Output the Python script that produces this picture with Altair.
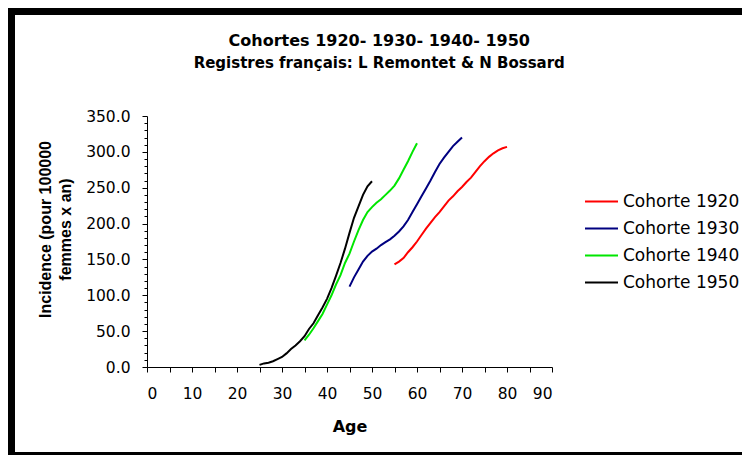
import altair as alt
import pandas as pd

cohorts = ["Cohorte 1920", "Cohorte 1930", "Cohorte 1940", "Cohorte 1950"]
colors = ["#ff0000", "#000080", "#00e600", "#000000"]

ages_1920 = list(range(55, 81))
inc_1920 = [143, 147, 152, 160, 167, 175, 184, 193, 201, 209, 216, 224, 232,
            238, 245, 251, 258, 264, 272, 280, 287, 293, 298, 302, 305, 307]
ages_1930 = list(range(45, 71))
inc_1930 = [112, 125, 136, 147, 155, 161, 165, 170, 174, 178, 183, 189, 196,
            205, 216, 227, 238, 249, 260, 272, 283, 292, 300, 308, 314, 320]
ages_1940 = list(range(35, 61))
inc_1940 = [37, 45, 54, 64, 74, 87, 100, 115, 128, 145, 158, 175, 191,
            205, 216, 223, 229, 234, 240, 246, 253, 263, 275, 287, 300, 312]
ages_1950 = list(range(25, 51))
inc_1950 = [3, 5, 6, 8, 11, 14, 19, 25, 30, 36, 43, 53, 61,
            72, 83, 95, 110, 127, 145, 165, 187, 208, 224, 240, 252, 259]

x_ticks = list(range(0, 91, 5))
y_ticks = list(range(0, 351, 10))

series = [(cohorts[0], ages_1920, inc_1920), (cohorts[1], ages_1930, inc_1930),
          (cohorts[2], ages_1940, inc_1940), (cohorts[3], ages_1950, inc_1950)]
rows = []
for name, ages, vals in series:
    for a, v in zip(ages, vals):
        rows.append({"Cohorte": name, "Age": a, "Incidence": v})
df = pd.DataFrame(rows)

W, H = 405, 251
PAD_L, PAD_T = 139, 108
TOTAL_W, TOTAL_H = 734, 447

lines = alt.Chart(df).mark_line(strokeWidth=2).encode(
    x=alt.X("Age:Q", scale=alt.Scale(domain=[0, 90], nice=False),
            axis=alt.Axis(values=x_ticks, title="Age",
                          labelExpr="datum.value % 10 == 0 ? datum.label : ''",
                          grid=False, tickSize=5, labelPadding=14,
                          labelFont="DejaVu Sans", labelFontSize=15.5, labelColor="black",
                          titleFont="DejaVu Sans", titleFontSize=16, titleFontWeight="bold",
                          titleColor="black", titlePadding=17,
                          domainColor="black", tickColor="black")),
    y=alt.Y("Incidence:Q", scale=alt.Scale(domain=[0, 350], nice=False),
            axis=alt.Axis(values=y_ticks, format=".1f",
                          labelExpr="datum.value % 50 == 0 ? datum.label : ''",
                          title=["Incidence (pour 100000", "femmes x an)"],
                          grid=False,
                          tickSize={"condition": {"test": "datum.value % 50 === 0", "value": 5}, "value": 3},
                          labelPadding=12,
                          labelFont="DejaVu Sans", labelFontSize=15.5, labelColor="black",
                          titleFont="Liberation Sans", titleFontSize=16, titleFontWeight="bold",
                          titleColor="black", titleLineHeight=20, titlePadding=12, titleY=113,
                          domainColor="black", tickColor="black")),
    color=alt.Color("Cohorte:N", scale=alt.Scale(domain=cohorts, range=colors),
                    legend=alt.Legend(title=None, orient="none", legendX=437, legendY=68,
                                      symbolType="stroke", symbolSize=1089, symbolStrokeWidth=2,
                                      labelFont="DejaVu Sans", labelFontSize=17, labelColor="black",
                                      labelOffset=4, rowPadding=1)),
)

frame = alt.Chart(pd.DataFrame({"a": [0]})).mark_rect(
    fillOpacity=0, stroke="black", strokeWidth=7
).encode(x=alt.value(-135.5), x2=alt.value(602), y=alt.value(-104.5), y2=alt.value(339.5))

chart = alt.layer(frame, lines).properties(
    width=W, height=H, background="white",
    autosize=alt.AutoSizeParams(type="none"),
    padding={"left": PAD_L, "top": PAD_T, "right": TOTAL_W - PAD_L - W, "bottom": TOTAL_H - PAD_T - H},
    title=alt.TitleParams(
        text="Cohortes 1920- 1930- 1940- 1950",
        subtitle="Registres français: L Remontet & N Bossard",
        font="DejaVu Sans", fontSize=16, fontWeight="bold", color="black",
        subtitleFont="DejaVu Sans", subtitleFontSize=15, subtitleFontWeight="bold",
        subtitleColor="black", subtitlePadding=7, anchor="middle", frame="bounds",
        offset=-62.5, dx=-1,
    ),
).configure_view(stroke=None)

chart.save("out.html", embed_options={"renderer": "svg", "actions": False})
